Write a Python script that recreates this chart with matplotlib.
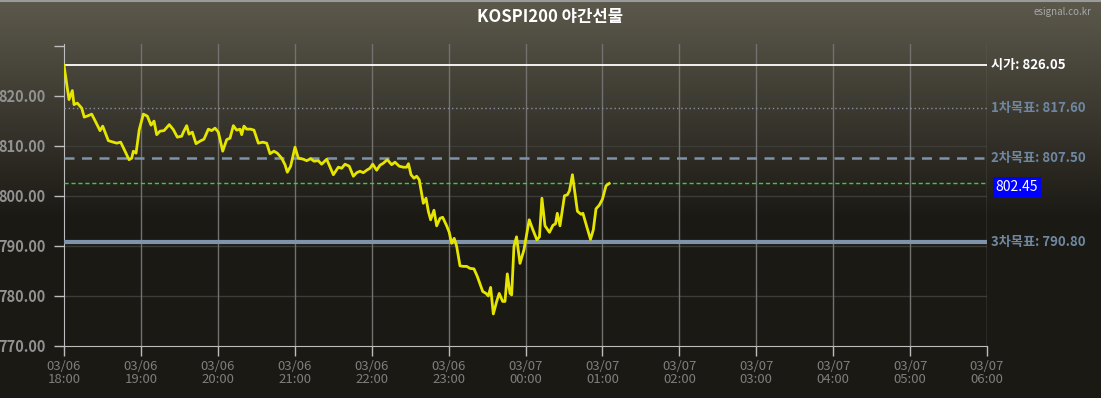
import numpy as np
import matplotlib
matplotlib.use('Agg')
from matplotlib import pyplot as plt

plt.rcParams['font.family'] = ['Noto Sans CJK KR', 'DejaVu Sans']

# minutes after 03/06 18:00 and price
minutes = [0, 3.9, 6.5, 7.8, 10.4, 13.8, 15.8, 19.0, 21.6, 24.2, 28.1, 30.2, 34.6,
           38.5, 41.1, 44.2, 47.6, 50.7, 52.8, 54.1, 56.2, 58.7, 61.9, 65.0, 67.9,
           70.2, 72.3, 74.9, 78.0, 82.1, 85.3, 88.4, 91.8, 93.1, 95.7, 97.5, 100.1,
           103.0, 106.1, 109.2, 112.6, 115.2, 117.8, 120.4, 123.8, 126.9, 129.5,
           132.1, 134.7, 137.3, 138.6, 140.4, 142.5, 145.6, 148.2, 151.6, 155.0,
           158.1, 160.7, 163.8, 166.4, 169.8, 172.4, 174.2, 176.8, 180.2, 182.8,
           186.7, 189.3, 192.4, 195.0, 198.4, 201.0, 204.9, 210.1, 214.0, 216.6,
           219.2, 222.5, 225.7, 228.3, 230.9, 233.5, 236.1, 238.7, 240.8, 243.9,
           246.5, 249.1, 252.2, 255.6, 258.2, 261.5, 264.7, 267.3, 268.7, 270.7,
           273.0, 275.1, 277.1, 280.3, 282.4, 284.2, 286.0, 288.6, 290.7, 293.3,
           295.4, 298.5, 300.5, 302.4, 304.4, 306.3, 308.9, 311.5, 314.1, 316.7,
           319.8, 322.4, 326.6, 329.2, 331.0, 332.8, 334.9, 337.5, 339.5, 342.2,
           344.0, 345.8, 347.9, 349.2, 351.0, 353.0, 355.7, 358.8, 362.9, 365.6,
           368.9, 370.9, 372.8, 375.2, 378.7, 381.4, 383.4, 384.8, 386.9, 390.4,
           392.7, 394.3, 396.6, 400.5, 403.3, 404.8, 407.7, 410.7, 412.9, 415.0,
           417.5, 420.0, 422.8, 425.3]
prices = [826.05, 819.2, 821.0, 818.2, 818.5, 817.5, 815.7, 816.0, 816.3, 815.0, 813.0,
          813.9, 811.0, 810.7, 810.5, 810.7, 808.9, 807.2, 807.5, 808.9, 808.5, 813.2,
          816.3, 815.9, 814.1, 814.9, 812.2, 812.9, 813.0, 814.2, 813.2, 811.7, 811.9,
          812.7, 814.0, 812.3, 812.7, 810.4, 810.9, 811.3, 813.3, 813.0, 813.5, 812.7,
          808.9, 811.2, 811.5, 814.0, 813.1, 813.3, 812.2, 813.9, 813.3, 813.3, 813.1,
          810.5, 810.7, 810.5, 808.4, 808.9, 808.5, 807.5, 806.2, 804.7, 805.9, 809.7,
          807.5, 807.3, 807.0, 807.4, 806.9, 807.0, 806.3, 807.3, 804.2, 805.7, 805.5,
          806.3, 805.9, 803.9, 804.6, 804.9, 804.6, 805.1, 805.5, 806.3, 805.1, 806.1,
          806.5, 807.2, 806.2, 806.7, 805.9, 805.7, 805.7, 806.4, 804.2, 803.5, 803.9,
          803.2, 798.5, 799.5, 796.9, 795.2, 797.1, 794.0, 795.5, 795.7, 794.0, 792.7,
          790.5, 791.5, 789.9, 786.0, 785.9, 785.9, 785.5, 785.4, 783.9, 780.9, 780.5,
          780.0, 781.7, 776.4, 778.9, 780.5, 778.9, 778.9, 784.4, 780.5, 780.2, 789.9,
          791.8, 786.5, 789.2, 795.2, 793.3, 791.2, 791.8, 799.5, 794.0, 792.7, 794.1,
          794.4, 796.5, 794.0, 800.0, 800.2, 801.0, 804.2, 796.9, 796.3, 796.5, 793.9,
          791.3, 793.2, 797.4, 798.1, 799.3, 802.0, 802.45]

hour_labels = ['03/06\n18:00', '03/06\n19:00', '03/06\n20:00', '03/06\n21:00',
               '03/06\n22:00', '03/06\n23:00', '03/07\n00:00', '03/07\n01:00',
               '03/07\n02:00', '03/07\n03:00', '03/07\n04:00', '03/07\n05:00',
               '03/07\n06:00']
y_ticks = [770, 780, 790, 800, 810, 820, 830]

open_price = 826.05
target1 = 817.60
target2 = 807.50
target3 = 790.80
last_price = 802.45

fig = plt.figure(figsize=(11.01, 3.98), dpi=100)

# background gradient
bg = fig.add_axes([0, 0, 1, 1])
grad = np.linspace(0, 1, 398)
top = np.array([92, 89, 76]) / 255.0
bot = np.array([27, 25, 20]) / 255.0
t = np.clip(grad / 0.55, 0, 1)[:, None]
img = top * (1 - t) + bot * t
bg.imshow(img[:, None, :], aspect='auto', extent=[0, 1, 0, 1], origin='upper')
bg.axhline(0.998, color='#9a9a9a', lw=1.5)
bg.set_xlim(0, 1)
bg.set_ylim(0, 1)
bg.axis('off')

W, H = 1101.0, 398.0
ax = fig.add_axes([64 / W, (H - 346) / H, (987 - 64) / W, (346 - 44) / H])
ax.patch.set_alpha(0)

ax.set_xlim(0, 720)
ax.set_ylim(770, 830.3)

# grid
for y in y_ticks[1:-1]:
    ax.axhline(y, color='#3e3c36', lw=1, zorder=1)
for k in range(1, 13):
    ax.axvline(k * 60, color='#727170', lw=1, zorder=1)

# reference lines
ax.axhline(open_price, color='#ffffff', lw=1.3, zorder=3)
ax.axhline(target1, color='#8b8fa6', lw=1, ls=(0, (1, 2)), zorder=3)
ax.axhline(target2, color='#7d93ac', lw=1.8, ls=(0, (4, 3)), zorder=3)
ax.axhline(last_price, color='#38d038', lw=1, ls=(0, (3, 2)), zorder=3)
ax.axhline(target3, color='#7f93aa', lw=3, zorder=3)

ax.plot(minutes, prices, color='#e5e500', lw=2, zorder=5)

ax.set_xticks([k * 60 for k in range(13)])
ax.set_xticklabels(hour_labels, color='#7e7e7e', fontsize=9.5, linespacing=1.05)
ax.set_yticks(y_ticks)
ax.set_yticklabels(['%.2f' % v for v in y_ticks[:-1]] + [''], color='#929292',
                   fontsize=10.5, fontweight='bold')
ax.tick_params(axis='both', color='#bdbdbd', length=7, width=1)
ax.tick_params(axis='x', pad=3)
ax.tick_params(axis='y', pad=6)
for s in ['top', 'right']:
    ax.spines[s].set_visible(False)
for s in ['left', 'bottom']:
    ax.spines[s].set_color('#bdbdbd')

# right labels
tr = ax.get_yaxis_transform()
lx = 1.004
ax.text(lx, open_price, '시가: 826.05', transform=tr, color='#ffffff', fontsize=9.5,
        fontweight='bold', va='center', ha='left')
ax.text(lx, target1, '1차목표: 817.60', transform=tr, color='#6f87a2', fontsize=9.5,
        fontweight='bold', va='center', ha='left')
ax.text(lx, target2, '2차목표: 807.50', transform=tr, color='#6f87a2', fontsize=9.5,
        fontweight='bold', va='center', ha='left')
ax.text(lx, target3, '3차목표: 790.80', transform=tr, color='#6f87a2', fontsize=9.5,
        fontweight='bold', va='center', ha='left')
ax.text(lx + 0.005, last_price - 0.7, '802.45', transform=tr, color='#ffffff', fontsize=10,
        va='center', ha='left',
        bbox=dict(boxstyle='square,pad=0.2', fc='#0000ff', ec='none'))

fig.text(0.5, 1 - 17 / H, 'KOSPI200 야간선물', color='#ffffff', fontsize=12,
         fontweight='bold', ha='center', va='center')
fig.text(1 - 10 / W, 1 - 12 / H, 'esignal.co.kr', color='#a8a8a8', fontsize=7,
         ha='right', va='center')

fig.savefig('out.png', dpi=100)
